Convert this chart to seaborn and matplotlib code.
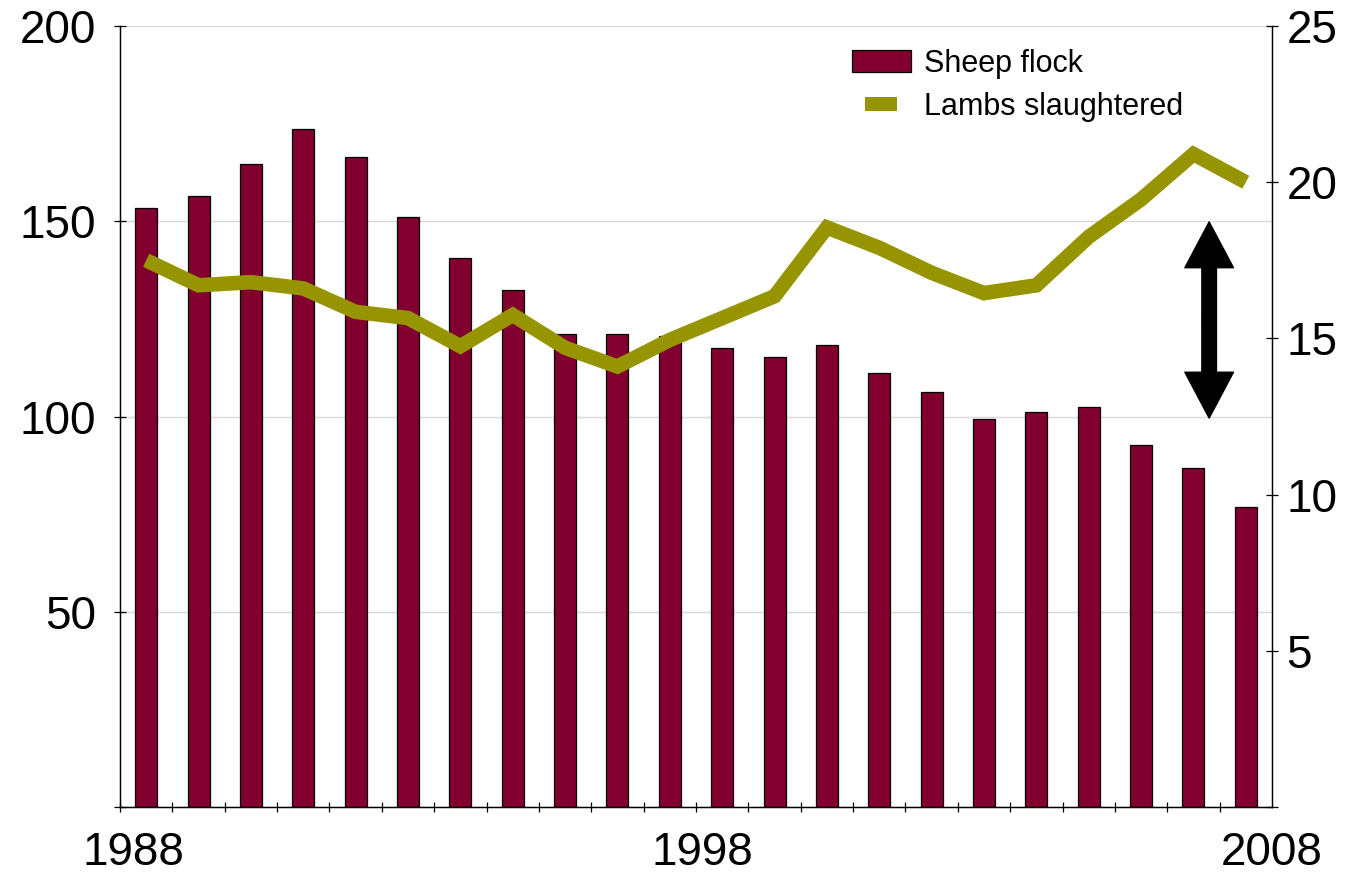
import numpy as np
import pandas as pd
import matplotlib
matplotlib.use("Agg")
import matplotlib.pyplot as plt
from matplotlib.patches import Patch
from matplotlib.lines import Line2D
import seaborn as sns

# valores (22 periodos, 1988 -> 2008)
sheep_flock = [153.4, 156.5, 164.7, 173.7, 166.4, 151.0, 140.6, 132.5, 121.0, 121.2, 120.5,
               117.6, 115.3, 118.4, 111.1, 106.3, 99.4, 101.1, 102.5, 92.7, 86.8, 76.8]
lambs_slaughtered = [17.5, 16.7, 16.8, 16.6, 15.85, 15.65, 14.75, 15.75, 14.7, 14.1, 14.95,
                     15.65, 16.35, 18.55, 17.9, 17.1, 16.45, 16.7, 18.25, 19.45, 20.9, 20.0]
year_labels = ["1988", "1998", "2008"]
year_label_pos = [-0.24, 10.63, 21.5]
left_ticks = [0, 50, 100, 150, 200]
left_labels = ["", "50", "100", "150", "200"]
right_ticks = [0, 5, 10, 15, 20, 25]
right_labels = ["", "5", "10", "15", "20", "25"]

BAR_COLOR = "#820030"
LINE_COLOR = "#969400"

df = pd.DataFrame({
    "periodo": np.arange(len(sheep_flock)),
    "flock": sheep_flock,
    "lambs": lambs_slaughtered,
})

sns.set_theme(style="white")
plt.rcParams["font.family"] = ["Liberation Sans", "DejaVu Sans"]
plt.rcParams["text.color"] = "black"
plt.rcParams["xtick.color"] = "black"
plt.rcParams["ytick.color"] = "black"
plt.rcParams["xtick.labelcolor"] = "black"
plt.rcParams["ytick.labelcolor"] = "black"

fig = plt.figure(figsize=(13.46, 8.74), dpi=100)
ax = fig.add_axes([120 / 1346, 1 - 807 / 874, 1152 / 1346, 781 / 874])

# barras do rebanho (eixo esquerdo)
sns.barplot(data=df, x="periodo", y="flock", ax=ax, color=BAR_COLOR, saturation=1,
            width=0.42, edgecolor="black", linewidth=0.9)
ax.set_xlim(-0.5, len(sheep_flock) - 0.5)
ax.set_ylim(0, 200)
ax.set_yticks(left_ticks)
ax.set_yticklabels(left_labels)
ax.set_xticks(year_label_pos)
ax.set_xticklabels(year_labels)
ax.set_xticks(np.arange(-0.5, len(sheep_flock), 1), minor=True)
ax.set_xlabel("")
ax.set_ylabel("")
ax.yaxis.grid(True, color="#d9d9d9", linewidth=1.0)
ax.set_axisbelow(True)
ax.tick_params(axis="y", direction="inout", length=9, width=0.9, color="black",
               labelcolor="black", labelsize=33, pad=13, left=True)
ax.tick_params(axis="x", which="major", length=0, labelsize=33, pad=17, labelcolor="black")
ax.tick_params(axis="x", which="minor", direction="inout", length=7, width=0.9,
               color="black", bottom=True)

# linha dos abates (eixo direito)
ax2 = ax.twinx()
sns.lineplot(data=df, x="periodo", y="lambs", ax=ax2, color=LINE_COLOR, linewidth=10.5,
             solid_capstyle="butt", solid_joinstyle="miter")
ax2.set_ylim(0, 25)
ax2.set_yticks(right_ticks)
ax2.set_yticklabels(right_labels)
ax2.set_ylabel("")
ax2.set_xlabel("")
ax2.tick_params(axis="y", direction="inout", length=9, width=0.9, color="black",
                labelcolor="black", labelsize=33, pad=6, right=True)

for a in (ax, ax2):
    for side in ["left", "right", "bottom"]:
        a.spines[side].set_visible(True)
        a.spines[side].set_color("black")
        a.spines[side].set_linewidth(0.9)
    a.spines["top"].set_visible(False)

# seta dupla preta
arrow_x = 20.3
arrow_lo, arrow_hi = 12.45, 18.73
arrow_mid = (arrow_lo + arrow_hi) / 2
for tip in (arrow_hi, arrow_lo):
    ax2.annotate("", xy=(arrow_x, tip), xytext=(arrow_x, arrow_mid),
                 arrowprops=dict(facecolor="black", edgecolor="black", width=10.5,
                                 headwidth=35, headlength=33, shrink=0))

handles = [
    Patch(facecolor=BAR_COLOR, edgecolor="black", linewidth=0.9),
    Line2D([], [], linestyle="none", color=LINE_COLOR, markersize=22.5,
           marker=[(-1, -0.45), (1, -0.45), (1, 0.45), (-1, 0.45)], markeredgewidth=0),
]
ax2.legend(handles, ["Sheep flock", "Lambs slaughtered"], loc="upper left",
           bbox_to_anchor=(0.635, 0.971), frameon=False, fontsize=22, labelcolor="black",
           handlelength=1.96, handleheight=0.75, handletextpad=0.42,
           labelspacing=0.45, borderaxespad=0, borderpad=0, numpoints=1)

fig.savefig("out.png", dpi=100)
